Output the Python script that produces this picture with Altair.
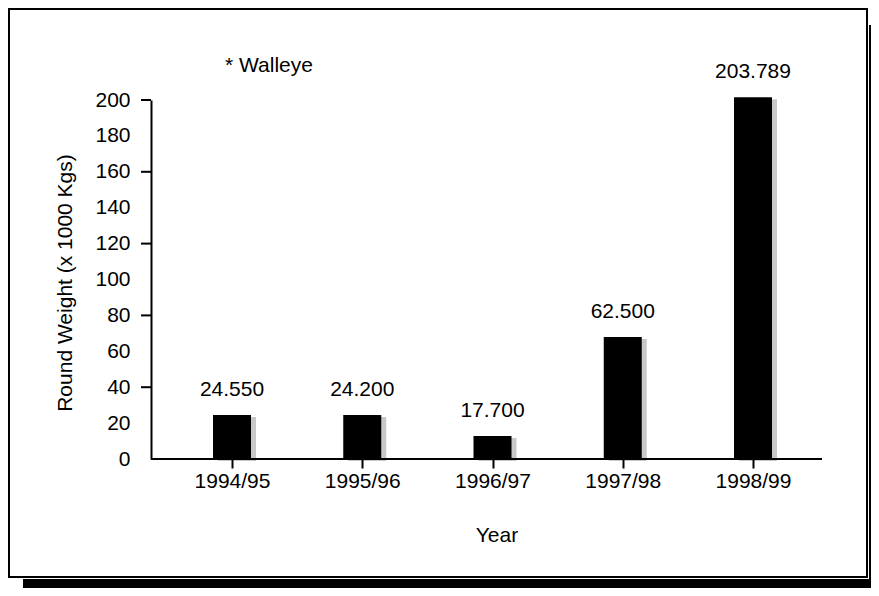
import altair as alt
import pandas as pd

# ---- data ----
years = ["1994/95", "1995/96", "1996/97", "1997/98", "1998/99"]
bar_heights = [24.5, 24.5, 12.8, 68.0, 201.5]
bar_labels = ["24.550", "24.200", "17.700", "62.500", "203.789"]
y_label_values = [0, 20, 40, 60, 80, 100, 120, 140, 160, 180, 200]
y_tick_values = [40, 80, 120, 160, 200]
y_title = "Round Weight (x 1000 Kgs)"
x_title = "Year"
note_text = "* Walleye"

FONT = "Liberation Sans"
FS = 21
W, H = 671, 359
PAD_L, PAD_T = 143, 92
TOTAL_W, TOTAL_H = 863, 580

df = pd.DataFrame({"year": years, "height": bar_heights, "label": bar_labels})
ticks_df = pd.DataFrame({"v": y_tick_values})
one = pd.DataFrame({"k": [0]})

xscale = alt.Scale(type="point", domain=years, range=[81, 602], padding=0)
yscale = alt.Scale(domain=[0, 200], nice=False, zero=True)

x_axis = alt.Axis(title=None, domain=False, ticks=True, tickSize=9, tickWidth=2,
                  tickColor="black", labelFont=FONT, labelFontSize=FS,
                  labelColor="black", labelPadding=2, labelAngle=0,
                  labelOverlap=False, grid=False, zindex=1)
y_axis = alt.Axis(title=None, values=y_label_values, ticks=False,
                  domainColor="black", domainWidth=2, labelFont=FONT,
                  labelFontSize=FS, labelColor="black", labelPadding=21,
                  labelOverlap=False, grid=False, zindex=1)

bar_shadow = alt.Chart(df).mark_bar(color="#c8c8c8", width=38, xOffset=5, yOffset=2).encode(
    x=alt.X("year:N", scale=xscale, axis=x_axis),
    y=alt.Y("height:Q", scale=yscale, axis=y_axis))

bars = alt.Chart(df).mark_bar(color="black", width=38).encode(
    x=alt.X("year:N", scale=xscale, axis=x_axis),
    y=alt.Y("height:Q", scale=yscale, axis=y_axis))

# frame: drop shadow + box outline
shadow_bottom = alt.Chart(one).mark_rect(color="black").encode(
    x=alt.value(-128), x2=alt.value(730), y=alt.value(479), y2=alt.value(500))
shadow_right = alt.Chart(one).mark_rect(color="black").encode(
    x=alt.value(718), x2=alt.value(730), y=alt.value(-75), y2=alt.value(500))
box = alt.Chart(one).mark_rect(fill="white", fillOpacity=0, stroke="black",
                               strokeWidth=2).encode(
    x=alt.value(-142), x2=alt.value(716), y=alt.value(-91), y2=alt.value(477))

x_line = alt.Chart(one).mark_rule(color="black", strokeWidth=2).encode(
    x=alt.value(0), x2=alt.value(W), y=alt.value(H))

y_ticks = alt.Chart(ticks_df).mark_rule(color="black", strokeWidth=2).encode(
    y=alt.Y("v:Q", scale=yscale, axis=y_axis), x=alt.value(-10), x2=alt.value(0))

bar_text = alt.Chart(df).mark_text(font=FONT, fontSize=FS, color="black",
                                   baseline="middle", dy=-25).encode(
    x=alt.X("year:N", scale=xscale, axis=x_axis),
    y=alt.Y("height:Q", scale=yscale, axis=y_axis),
    text="label:N")

note = alt.Chart(one).mark_text(font=FONT, fontSize=FS, color="black",
                                align="left", baseline="middle").encode(
    x=alt.value(74), y=alt.value(-34), text=alt.value(note_text))

xt = alt.Chart(one).mark_text(font=FONT, fontSize=FS, color="black",
                              align="center", baseline="middle").encode(
    x=alt.value(346), y=alt.value(436), text=alt.value(x_title))

yt = alt.Chart(one).mark_text(font=FONT, fontSize=FS, color="black", angle=270,
                              align="center", baseline="middle").encode(
    x=alt.value(-85), y=alt.value(183), text=alt.value(y_title))

chart = alt.layer(bar_shadow, bars, shadow_bottom, shadow_right, box, x_line,
                  y_ticks, bar_text, note, xt, yt).properties(
    width=W, height=H,
    autosize=alt.AutoSizeParams(type="none"),
    padding={"left": PAD_L, "top": PAD_T,
             "right": TOTAL_W - PAD_L - W, "bottom": TOTAL_H - PAD_T - H},
    background="white",
).configure_view(stroke=None)

chart.save("out.html", embed_options={"renderer": "svg", "actions": False})
